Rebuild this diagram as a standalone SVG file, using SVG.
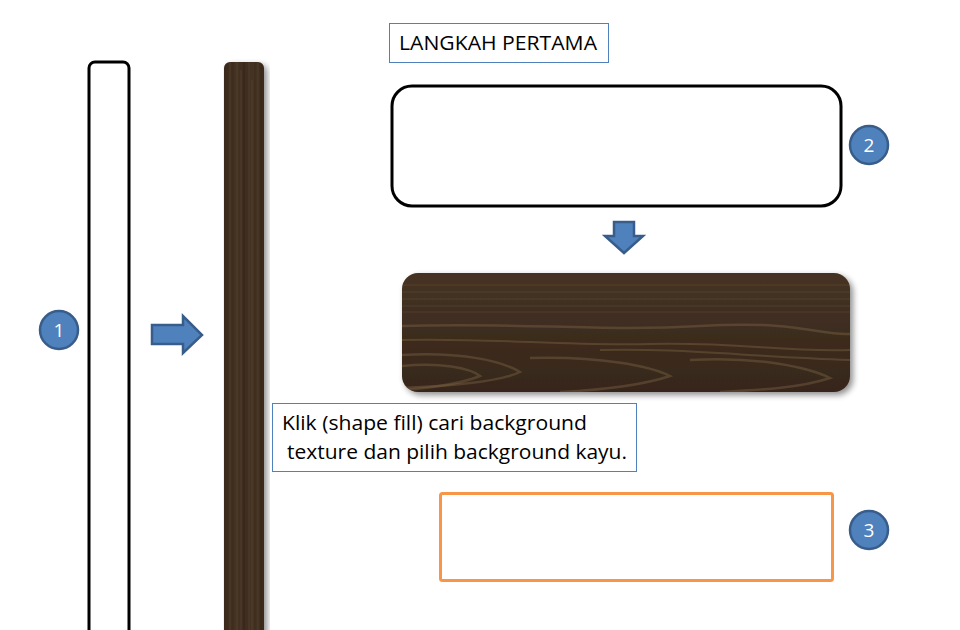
<svg xmlns="http://www.w3.org/2000/svg" width="960" height="630" viewBox="0 0 960 630">
<style>
.num{fill:#4f81bd;stroke:#385d8a;stroke-width:2.5}
.numt{font-family:"Open Sans","Liberation Sans",sans-serif;font-size:19px;fill:#ffffff;text-anchor:middle}
.arrow{fill:#4f81bd;stroke:#385d8a;stroke-width:2.5;stroke-linejoin:miter}
.lbl{fill:#ffffff;stroke:#4f81bd;stroke-width:1}
.txt{font-family:"Open Sans","Liberation Sans",sans-serif;fill:#000000}
.grain{fill:none;stroke:#7a6242;stroke-opacity:0.45}
</style>
<defs>
<linearGradient id="woodV" x1="0" y1="0" x2="1" y2="0">
<stop offset="0" stop-color="#3a2a1d"/>
<stop offset="0.3" stop-color="#453223"/>
<stop offset="0.5" stop-color="#3d2c1f"/>
<stop offset="0.75" stop-color="#463324"/>
<stop offset="1" stop-color="#3a2a1d"/>
</linearGradient>
<linearGradient id="woodH" x1="0" y1="0" x2="0" y2="1">
<stop offset="0" stop-color="#453222"/>
<stop offset="0.4" stop-color="#3f2e20"/>
<stop offset="1" stop-color="#36271b"/>
</linearGradient>
<filter id="shadow" x="-10%" y="-10%" width="125%" height="125%">
<feGaussianBlur in="SourceAlpha" stdDeviation="3"/>
<feOffset dx="3" dy="3"/>
<feComponentTransfer><feFuncA type="linear" slope="0.45"/></feComponentTransfer>
<feMerge><feMergeNode/><feMergeNode in="SourceGraphic"/></feMerge>
</filter>
<clipPath id="clipV"><rect x="224" y="62" width="40" height="580" rx="6"/></clipPath>
<clipPath id="clipH"><rect x="402" y="273" width="448" height="119" rx="16"/></clipPath>
</defs>
<rect width="960" height="630" fill="#ffffff"/>

<g id="node-bar-outline">
<rect x="89" y="62" width="40" height="590" rx="6" fill="#ffffff" stroke="#000000" stroke-width="3"/>
</g>

<g id="node-bar-wood">
<rect x="224" y="62" width="40" height="590" rx="6" fill="url(#woodV)" filter="url(#shadow)"/>
<g clip-path="url(#clipV)">
<path fill="none" stroke="#6e573b" stroke-opacity="0.35" stroke-width="1" d="M230 62V630M237 62V630M241 70V630M249 62V630M252 80V630M258 62V630"/>
<path fill="none" stroke="#2c1f15" stroke-opacity="0.35" stroke-width="1" d="M233 62V630M244 62V630M255 62V630M261 62V630"/>
</g>
</g>

<g id="node-title">
<rect class="lbl" x="389.5" y="23.5" width="219" height="39"/>
<text class="txt" x="399" y="50" font-size="19.5" textLength="198" lengthAdjust="spacingAndGlyphs">LANGKAH PERTAMA</text>
</g>

<g id="node-box-outline">
<rect x="392" y="86" width="449" height="120" rx="20" fill="#ffffff" stroke="#000000" stroke-width="3"/>
</g>

<g id="node-box-wood">
<rect x="402" y="273" width="448" height="119" rx="16" fill="url(#woodH)" filter="url(#shadow)"/>
<g clip-path="url(#clipH)">
<path fill="none" stroke="#6b5438" stroke-opacity="0.4" stroke-width="1" d="M402 285H850M402 292H850M402 299H850M402 306H850M402 312H850"/>
<path class="grain" stroke-width="2.5" d="M402 326C520 322 600 332 700 326S820 336 850 334"/>
<path class="grain" stroke-width="2" d="M402 340C500 338 560 346 650 344S780 352 850 350"/>
<path class="grain" stroke-width="2.5" d="M402 355C460 352 500 360 520 372C500 382 450 386 402 388"/>
<path class="grain" stroke-width="2.5" d="M402 366C440 362 470 368 480 376C460 384 430 388 402 390"/>
<path class="grain" stroke-width="2.5" d="M530 358C600 356 650 366 670 376C640 386 600 390 560 392"/>
<path class="grain" stroke-width="2.5" d="M690 360C760 356 810 368 830 378C800 388 760 390 720 392"/>
<path class="grain" stroke-width="2" d="M600 350C680 348 740 356 850 360"/>
</g>
</g>

<g id="node-label">
<rect class="lbl" x="272.5" y="403.5" width="364" height="68"/>
<text class="txt" font-size="20"><tspan x="282" y="430" textLength="305" lengthAdjust="spacingAndGlyphs">Klik (shape fill) cari background</tspan><tspan x="287" y="459" textLength="340" lengthAdjust="spacingAndGlyphs">texture dan pilih background kayu.</tspan></text>
</g>

<g id="node-box-orange">
<rect x="440.5" y="493.5" width="392" height="87" rx="2" fill="#ffffff" stroke="#f79646" stroke-width="3"/>
</g>

<g id="node-1">
<circle class="num" cx="59" cy="330" r="19"/>
<text class="numt" x="59" y="337">1</text>
</g>
<g id="node-2">
<circle class="num" cx="869" cy="145" r="19"/>
<text class="numt" x="869" y="152">2</text>
</g>
<g id="node-3">
<circle class="num" cx="869" cy="530" r="19"/>
<text class="numt" x="869" y="537">3</text>
</g>

<g id="connectors">
<path class="arrow" d="M152 325H183V316L202 335L183 353V344H152Z"/>
<path class="arrow" d="M614 222H634V236H643L624 253L605 236H614Z"/>
</g>
</svg>
